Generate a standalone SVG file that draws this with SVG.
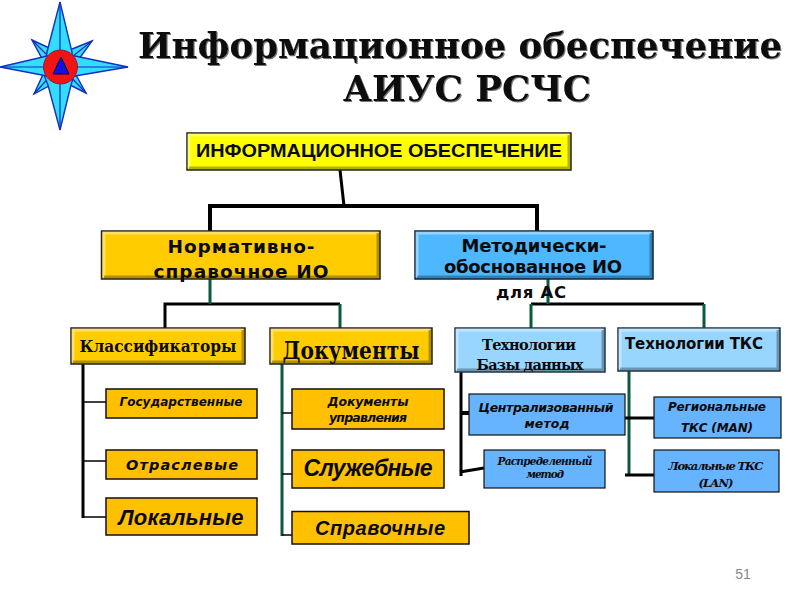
<svg xmlns="http://www.w3.org/2000/svg" width="800" height="600" viewBox="0 0 800 600">
<style>
text{text-anchor:middle;fill:#0a0a0a}
.sb{font-family:"DejaVu Sans",sans-serif;font-weight:bold}
.si{font-family:"DejaVu Sans",sans-serif;font-weight:bold;font-style:italic}
.se{font-family:"DejaVu Serif",serif;font-weight:bold}
.sei{font-family:"DejaVu Serif",serif;font-weight:bold;font-style:italic}
.ls{font-family:"Liberation Sans",sans-serif;font-weight:bold}
.lsi{font-family:"Liberation Sans",sans-serif;font-weight:bold;font-style:italic}
.k{fill:none;stroke:#000;stroke-width:3}
.g{fill:none;stroke:#0b5a3c;stroke-width:3}
.t{fill:none;stroke:#000;stroke-width:1.5}
.o{fill:#ffc000;stroke:#111;stroke-width:1.5}
.b{fill:#66b3ff;stroke:#111;stroke-width:1.2}
.y{fill:#ffff00;stroke:#222;stroke-width:1.5}
.n1{fill:#ffcc00;stroke:#222;stroke-width:1.5}
.n2{fill:#4db8ff;stroke:#123;stroke-width:1.5}
.n3{fill:#99d6ff;stroke:#234;stroke-width:1.5}
.hi{fill:none;stroke:#fff;stroke-opacity:.4;stroke-width:3}
.lo{fill:none;stroke:#000;stroke-opacity:.3;stroke-width:3}
.ray{fill:#33ddff;stroke:#1030c0;stroke-width:1.4;stroke-linejoin:miter}
.spine{stroke:#1030c0;stroke-width:1.2}
</style>
<defs>
<filter id="soft" x="-5%" y="-20%" width="110%" height="140%"><feDropShadow dx="1" dy="1" stdDeviation="0.700" flood-color="#777"/></filter>
</defs>
<g id="emblem">
<polygon class="ray" points="32,40 60,53 46,66" />
<polygon class="ray" points="92,41 62,53 74,66" />
<polygon class="ray" points="34,94 46,68 60,80" />
<polygon class="ray" points="86,93 60,80 72,68" />
<path class="spine" d="M32 40L52 60M92 41L68 60M34 94L52 74M86 93L68 74"/>
<polygon class="ray" points="60,2 72,52 74,75 71,85 60,130 48,85 44,75 47,52" />
<polygon class="ray" points="0,67 47,56 75,56 128,67 75,76 47,76" />
<path class="spine" d="M60 2V130M0 67H128"/>
<circle cx="60.500" cy="67" r="17" fill="#f01414" stroke="#8a2040" stroke-width="1"/>
<polygon points="61,57 53,74 69,74" fill="#1010e0" stroke="#000050" stroke-width="1"/>
</g>
<g id="title" filter="url(#soft)">
<text class="se" x="460" y="58" font-size="35.500" textLength="644" lengthAdjust="spacingAndGlyphs">Информационное обеспечение</text>
<text class="se" x="467" y="100.500" font-size="35.500" textLength="248" lengthAdjust="spacingAndGlyphs">АИУС РСЧС</text>
</g>
<g id="connectors">
<path class="k" style="stroke-width:3" d="M340 170L344 206"/>
<path class="k" style="stroke-width:4" d="M210 231V206H537V231"/>
<path class="k" d="M165 328V304H340"/>
<path class="g" d="M210 279V304M340 304V328"/>
<path class="k" d="M531 304H704"/>
<path class="g" d="M548 279V304M531 304V328M704 304V328"/>
<path class="k" d="M83 364V518"/>
<path class="t" d="M83 402H106M83 461H106M83 517H106"/>
<path class="g" d="M282 362V536"/>
<path class="t" d="M282 413H292M282 474H292M282 535H292"/>
<path class="k" d="M461 372V476"/>
<path class="k" style="stroke-width:4" d="M461 413H469"/>
<path class="k" d="M460 472L484 468"/>
<path class="g" d="M629 371V475"/>
<path class="k" d="M625 418H654M625 475H654"/>
</g>
<g id="root">
<rect class="y" x="187" y="133" width="384" height="37"/>
<path class="hi" d="M189 168V135H569"/><path class="lo" d="M189 168H569V135"/>
<text class="ls" x="379" y="157" font-size="17.500" textLength="366" lengthAdjust="spacingAndGlyphs">ИНФОРМАЦИОННОЕ ОБЕСПЕЧЕНИЕ</text>
</g>
<g id="normative">
<rect class="n1" x="101.500" y="231" width="278.500" height="48"/>
<path class="hi" d="M104 277V233H378"/><path class="lo" d="M104 277H378V233"/>
<text class="sb" x="241" y="253" font-size="18.500" textLength="147" lengthAdjust="spacing">Нормативно-</text>
<text class="sb" x="241" y="278" font-size="18.500" textLength="175" lengthAdjust="spacing">справочное ИО</text>
</g>
<g id="methodical">
<rect class="n2" x="415" y="231" width="238" height="48"/>
<path class="hi" d="M417 277V233H651"/><path class="lo" d="M417 277H651V233"/>
<text class="sb" x="534" y="252" font-size="18" textLength="145" lengthAdjust="spacing">Методически-</text>
<text class="sb" x="533" y="273" font-size="18" textLength="178" lengthAdjust="spacing">обоснованное ИО</text>
</g>
<g id="for-as"><text class="sb" x="531" y="298" font-size="16.500" textLength="70" lengthAdjust="spacing">для АС</text></g>
<g id="classifiers">
<rect class="n1" x="71" y="328" width="174" height="36"/>
<path class="hi" d="M73 362V330H243"/><path class="lo" d="M73 362H243V330"/>
<text class="se" x="158" y="352" font-size="16" textLength="157" lengthAdjust="spacingAndGlyphs">Классификаторы</text>
</g>
<g id="documents">
<rect class="n1" x="270" y="328" width="162" height="36"/>
<path class="hi" d="M272 362V330H430"/><path class="lo" d="M272 362H430V330"/>
<text class="se" x="351" y="359" font-size="24" textLength="137" lengthAdjust="spacingAndGlyphs">Документы</text>
</g>
<g id="tech-db">
<rect class="n3" x="455" y="328" width="150" height="44"/>
<path class="hi" d="M457 370V330H603"/><path class="lo" d="M457 370H603V330"/>
<text class="se" x="529" y="350" font-size="14.500" textLength="94" lengthAdjust="spacing">Технологии</text>
<text class="se" x="530" y="370" font-size="14.500" textLength="107" lengthAdjust="spacing">Базы данных</text>
</g>
<g id="tech-tks">
<rect class="n3" x="618" y="328" width="162" height="43"/>
<path class="hi" d="M620 369V330H778"/><path class="lo" d="M620 369H778V330"/>
<text class="sb" x="694" y="349" font-size="15" textLength="138" lengthAdjust="spacing">Технологии ТКС</text>
</g>
<g id="state"><rect class="o" x="106" y="389" width="151" height="29"/><text class="si" x="181" y="406" font-size="12" textLength="123" lengthAdjust="spacing">Государственные</text></g>
<g id="branch"><rect class="o" x="106" y="450" width="151" height="29"/><text class="si" x="182" y="470" font-size="14.500" textLength="112" lengthAdjust="spacing">Отраслевые</text></g>
<g id="local"><rect class="o" x="106" y="498" width="151" height="37"/><text class="lsi" x="181" y="525" font-size="22" textLength="125" lengthAdjust="spacing">Локальные</text></g>
<g id="doc-mgmt"><rect class="o" x="292" y="389" width="152" height="40"/><text class="si" x="368" y="406" font-size="12.500" textLength="81" lengthAdjust="spacing">Документы</text><text class="si" x="368" y="422" font-size="12.500" textLength="78" lengthAdjust="spacing">управления</text></g>
<g id="service"><rect class="o" x="292" y="450" width="152" height="38"/><text class="lsi" x="368" y="476" font-size="23" textLength="129" lengthAdjust="spacing">Служебные</text></g>
<g id="reference"><rect class="o" x="292" y="511.500" width="177" height="32.500"/><text class="lsi" x="380" y="535" font-size="20" textLength="130" lengthAdjust="spacing">Справочные</text></g>
<g id="central"><rect class="b" x="469" y="394" width="156" height="41"/><text class="si" x="546" y="412" font-size="12.500" textLength="135" lengthAdjust="spacing">Централизованный</text><text class="si" x="547" y="428" font-size="12.500" textLength="45" lengthAdjust="spacing">метод</text></g>
<g id="distributed"><rect class="b" x="484" y="450" width="121" height="38"/><text class="sei" x="545" y="465" font-size="10.500" textLength="95" lengthAdjust="spacing">Распределенный</text><text class="sei" x="545" y="478" font-size="10.500" textLength="38" lengthAdjust="spacing">метод</text></g>
<g id="regional"><rect class="b" x="654" y="397" width="127" height="41"/><text class="si" x="717" y="411" font-size="12" textLength="98" lengthAdjust="spacing">Региональные</text><text class="si" x="717" y="432" font-size="12" textLength="72" lengthAdjust="spacing">ТКС  (MAN)</text></g>
<g id="local-tks"><rect class="b" x="654" y="450" width="125" height="42"/><text class="sei" x="716" y="470" font-size="11.500" textLength="95" lengthAdjust="spacing">Локальные ТКС</text><text class="sei" x="716" y="487" font-size="11.500" textLength="35" lengthAdjust="spacing">(LAN)</text></g>
<g id="page"><text x="743" y="579" font-family="Liberation Sans, sans-serif" font-size="14" style="fill:#8a8a8a">51</text></g>
</svg>
